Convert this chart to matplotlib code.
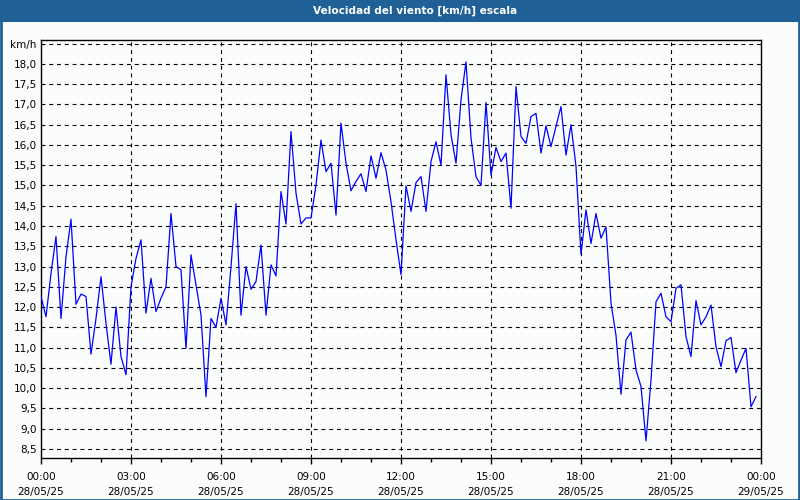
import matplotlib
matplotlib.use("Agg")
import matplotlib.pyplot as plt
from matplotlib.patches import Rectangle
from matplotlib import font_manager
import numpy as np

# ---- data ----
title = "Velocidad del viento [km/h] escala"
unit_label = "km/h"
start_hour = 0.0
step_minutes = 10
wind_speed = [
    12.26, 11.76, 12.83, 13.74, 11.72, 13.24, 14.17, 12.07, 12.32, 12.26,
    10.84, 11.72, 12.75, 11.60, 10.59, 12.00, 10.78, 10.33, 12.50, 13.20,
    13.66, 11.85, 12.71, 11.89, 12.22, 12.50, 14.31, 13.00, 12.92, 10.98,
    13.29, 12.55, 11.80, 9.79, 11.72, 11.50, 12.22, 11.56, 13.00, 14.55,
    11.80, 13.00, 12.44, 12.63, 13.53, 11.80, 13.04, 12.77, 14.85, 14.05,
    16.33, 14.81, 14.05, 14.20, 14.20, 15.01, 16.12, 15.34, 15.55, 14.27,
    16.54, 15.55, 14.87, 15.10, 15.29, 14.85, 15.73, 15.18, 15.81, 15.38,
    14.60, 13.66, 12.80, 14.99, 14.36, 15.07, 15.22, 14.36, 15.59, 16.08,
    15.50, 17.73, 16.25, 15.55, 17.11, 18.05, 16.17, 15.22, 15.00, 17.05,
    15.26, 15.94, 15.59, 15.80, 14.44, 17.44, 16.21, 16.04, 16.70, 16.78,
    15.80, 16.47, 15.96, 16.45, 16.95, 15.75, 16.50, 15.47, 13.30, 14.40,
    13.57, 14.31, 13.70, 13.98, 12.10, 11.30, 9.85, 11.19, 11.38, 10.45,
    10.04, 8.70, 10.20, 12.13, 12.34, 11.76, 11.64, 12.46, 12.55, 11.27,
    10.78, 12.16, 11.56, 11.76, 12.05, 11.02, 10.53, 11.17, 11.25, 10.38,
    10.69, 10.98, 9.54, 9.79,
]
x_tick_hours = [0, 3, 6, 9, 12, 15, 18, 21, 24]
x_tick_labels = ["00:00\n28/05/25", "03:00\n28/05/25", "06:00\n28/05/25",
                 "09:00\n28/05/25", "12:00\n28/05/25", "15:00\n28/05/25",
                 "18:00\n28/05/25", "21:00\n28/05/25", "00:00\n29/05/25"]
y_ticks = [8.5, 9.0, 9.5, 10.0, 10.5, 11.0, 11.5, 12.0, 12.5, 13.0, 13.5,
           14.0, 14.5, 15.0, 15.5, 16.0, 16.5, 17.0, 17.5, 18.0]

hours = start_hour + np.arange(len(wind_speed)) * step_minutes / 60.0

names = {f.name for f in font_manager.fontManager.ttflist}
title_family = ["Liberation Sans Narrow"] if "Liberation Sans Narrow" in names else ["DejaVu Sans"]
title_size = 9.5 if title_family[0] == "Liberation Sans Narrow" else 7.6

# ---- figure ----
W, H = 800, 500
fig = plt.figure(figsize=(W / 100, H / 100), dpi=100)
fig.patch.set_facecolor("#fbfdfd")
blue = "#1f6196"

fig.patches.append(Rectangle((0, 1 - 22 / H), 1, 22 / H, transform=fig.transFigure,
                             facecolor=blue, edgecolor="none", zorder=0))
fig.patches.append(Rectangle((0.5 / W, 0.5 / H), 1 - 1.5 / W, 1 - 1.5 / H,
                             transform=fig.transFigure, facecolor="none",
                             edgecolor=blue, linewidth=2, zorder=5))
fig.text(415 / W, 1 - 11 / H, title, color="white", fontsize=title_size, fontweight="bold",
         ha="center", va="center", family=title_family)

left, right, top, bottom = 41, 761, 40, 458
ax = fig.add_axes([left / W, 1 - bottom / H, (right - left) / W, (bottom - top) / H])
ax.set_facecolor("#fbfdfd")

ax.plot(hours, wind_speed, color="#0000ff", linewidth=0.9, zorder=3)

ax.set_xlim(0, 24)
ax.set_ylim(8.276, 18.59)

ax.set_xticks(x_tick_hours)
ax.set_xticklabels(x_tick_labels, fontsize=7.5, linespacing=1.6)
ax.set_xticks(np.arange(0, 25, 1), minor=True)
ax.tick_params(axis="x", which="major", direction="out", length=4, width=1,
               pad=6, colors="black")
ax.tick_params(axis="x", which="minor", direction="out", length=3, width=1)

yt = y_ticks + [18.5]
ax.set_yticks(yt)
ax.set_yticklabels([f"{v:.1f}".replace(".", ",") for v in y_ticks] + [unit_label],
                   fontsize=7.5)
ax.tick_params(axis="y", which="major", length=0, pad=3)

for v in yt:
    ax.axhline(v, color="black", linewidth=0.8, linestyle=(0, (3.5, 3.5)), zorder=1)
for h in x_tick_hours[1:-1]:
    ax.axvline(h, color="black", linewidth=0.8, linestyle=(0, (3.5, 3.5)), zorder=1)

for s in ax.spines.values():
    s.set_color("black")
    s.set_linewidth(1)

fig.savefig("out.png", dpi=100, facecolor=fig.get_facecolor())
